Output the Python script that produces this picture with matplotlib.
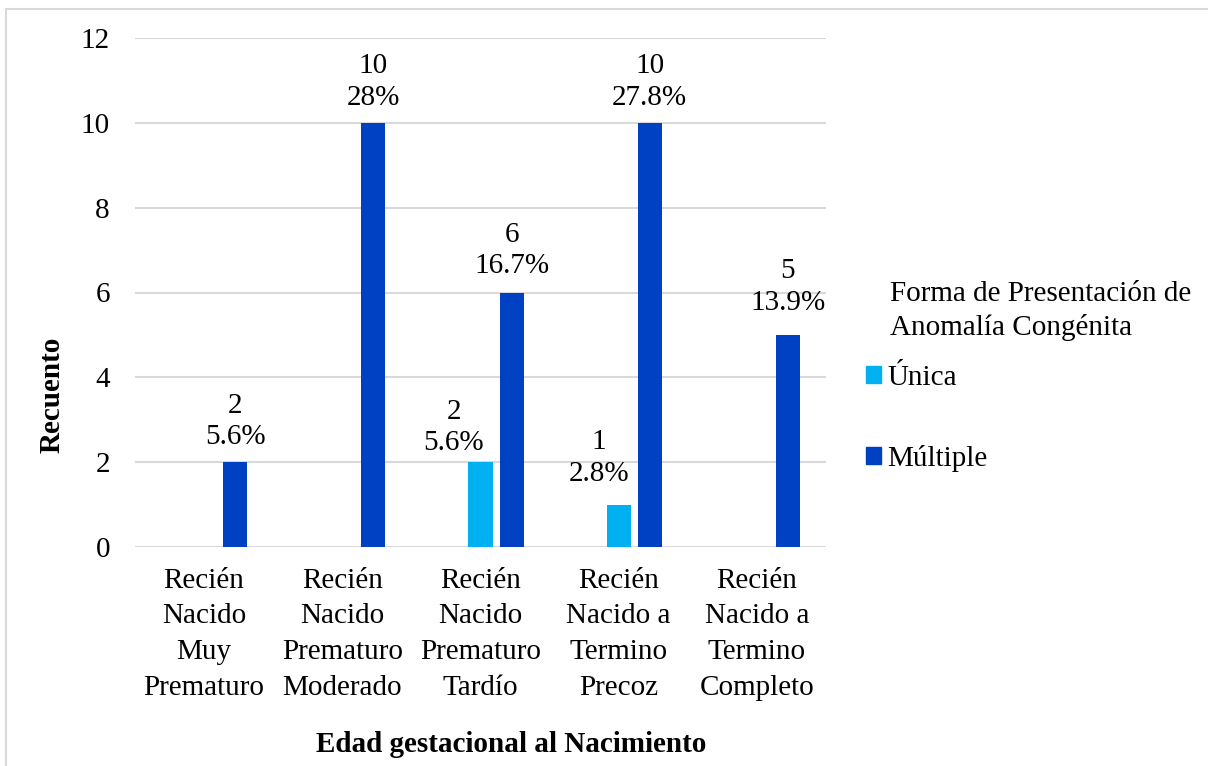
import numpy as np
import matplotlib
matplotlib.use('Agg')
import matplotlib.pyplot as plt
from matplotlib.patches import Patch
from matplotlib.lines import Line2D

plt.rcParams['font.family'] = ['Liberation Serif', 'DejaVu Serif']

categorias = ['Recién\nNacido\nMuy\nPrematuro',
              'Recién\nNacido\nPrematuro\nModerado',
              'Recién\nNacido\nPrematuro\nTardío',
              'Recién\nNacido a\nTermino\nPrecoz',
              'Recién\nNacido a\nTermino\nCompleto']
unica = [0, 0, 2, 1, 0]
multiple = [2, 10, 6, 10, 5]
pct_unica = ['', '', '5.6%', '2.8%', '']
pct_multiple = ['5.6%', '28%', '16.7%', '27.8%', '13.9%']
series_names = ['Única', 'Múltiple']
colores = ['#00B0F0', '#0041C4']

W, H = 1208, 766
fs = 21

fig = plt.figure(figsize=(W / 100, H / 100), dpi=100)
ax = fig.add_axes([135 / W, 1 - 547 / H, (826 - 135) / W, (547 - 38) / H])

x = np.arange(len(categorias))
ancho = 0.174
desp = 0.225
ax.bar(x, unica, width=ancho, color=colores[0], zorder=3)
ax.bar(x + desp, multiple, width=ancho, color=colores[1], zorder=3)

# label nudges (px): (dx, gap above bar)
ajuste_u = {2: (-27, 6), 3: (-20, 18)}
ajuste_m = {2: (0, 13), 4: (0, 19)}
px = 0.72
for i, v in enumerate(unica):
    if v > 0:
        dx, dy = ajuste_u.get(i, (0, 12))
        ax.annotate(f'{v}\n{pct_unica[i]}', xy=(x[i], v), xytext=(dx * px, dy * px),
                    textcoords='offset points', ha='center', va='bottom',
                    fontsize=fs, linespacing=1.28)
for i, v in enumerate(multiple):
    if v > 0:
        dx, dy = ajuste_m.get(i, (0, 12))
        ax.annotate(f'{v}\n{pct_multiple[i]}', xy=(x[i] + desp, v), xytext=(dx * px, dy * px),
                    textcoords='offset points', ha='center', va='bottom',
                    fontsize=fs, linespacing=1.28)

ax.set_xlim(-0.5, len(categorias) - 0.5)
ax.set_ylim(0, 12)
ax.set_yticks(range(0, 13, 2))
ax.set_xticks(x)
ax.set_xticklabels(categorias, fontsize=fs, linespacing=1.48)
ax.tick_params(axis='y', labelsize=fs, length=0, pad=18)
ax.tick_params(axis='x', length=0, pad=15)
ax.yaxis.grid(True, color='#D9D9D9', lw=1.5, zorder=0)
for s in ax.spines.values():
    s.set_visible(False)

fig.text(52 / W, 1 - 395 / H, 'Recuento', rotation=90, fontsize=fs, weight='bold',
         ha='center', va='center')
fig.text(511 / W, 1 - 745 / H, 'Edad gestacional al Nacimiento', fontsize=fs,
         weight='bold', ha='center', va='center')

fig.text(890 / W, 1 - 311 / H, 'Forma de Presentación de\nAnomalía Congénita',
         fontsize=fs, ha='left', va='center', linespacing=1.38)
handles = [Patch(color=c, label=n) for c, n in zip(colores, series_names)]
fig.legend(handles=handles, loc='upper left', bbox_to_anchor=(866 / W, 1 - 365 / H),
           frameon=False, fontsize=fs, handlelength=0.52, handleheight=0.52,
           handletextpad=0.2, labelspacing=1.85, borderpad=0, borderaxespad=0)

# thin frame around the chart area
fig.add_artist(Line2D([5.5 / W, 5.5 / W], [0, 1 - 8.5 / H], transform=fig.transFigure,
                      color='#D9D9D9', lw=1.5))
fig.add_artist(Line2D([5.5 / W, 1], [1 - 8.5 / H, 1 - 8.5 / H], transform=fig.transFigure,
                      color='#D9D9D9', lw=1.5))

fig.savefig('out.png', dpi=100)
